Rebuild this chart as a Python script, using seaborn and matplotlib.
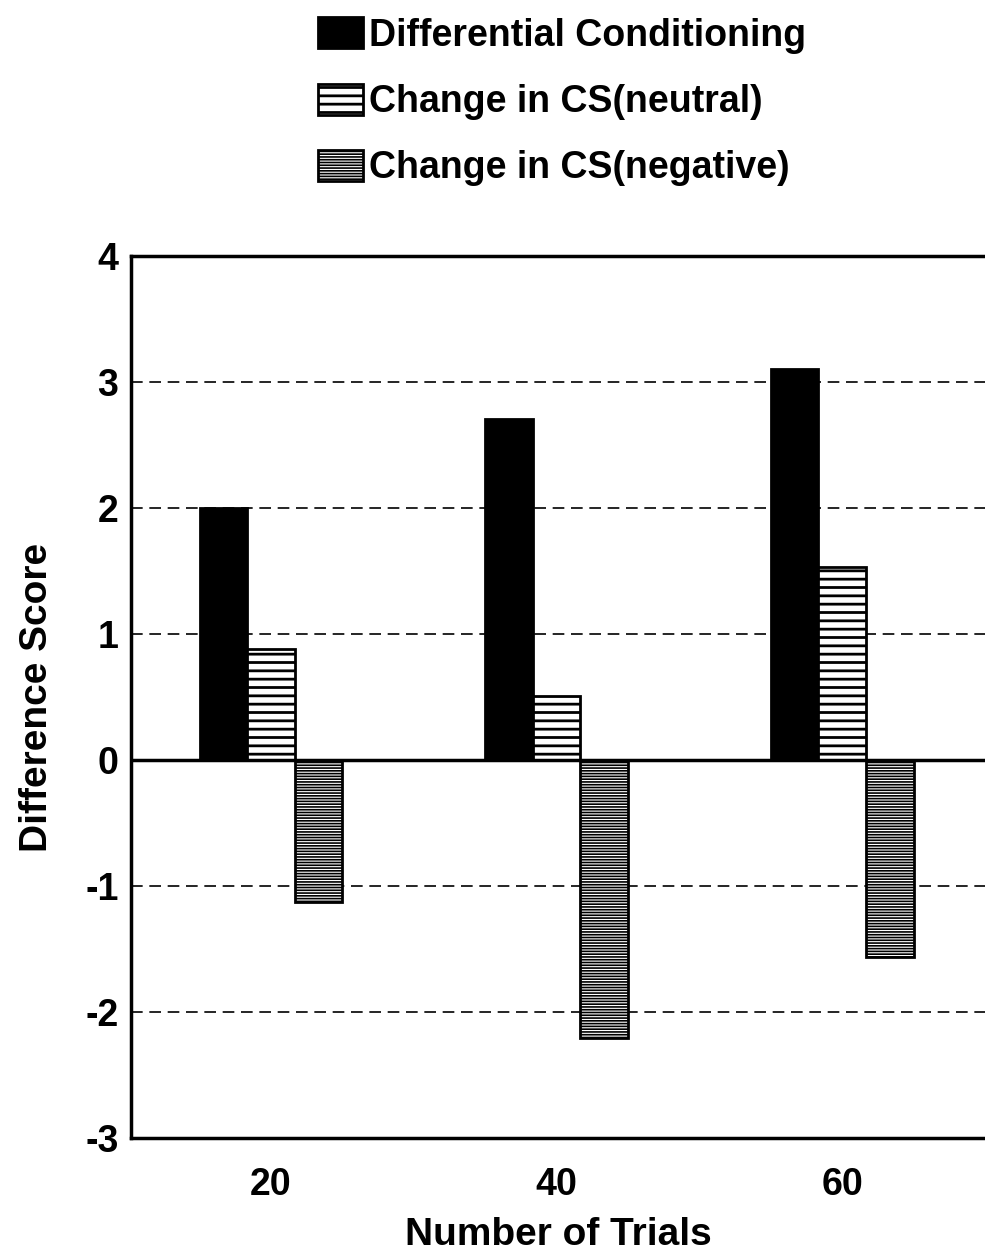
import pandas as pd
import seaborn as sns
from matplotlib import pyplot as plt

# data
trials = ["20", "40", "60"]
diff_cond = [2.00, 2.71, 3.10]
cs_neutral = [0.88, 0.51, 1.53]
cs_negative = [-1.13, -2.21, -1.56]
series_names = ["Differential Conditioning", "Change in CS(neutral)", "Change in CS(negative)"]

df = pd.DataFrame({
    "trials": trials * 3,
    "score": diff_cond + cs_neutral + cs_negative,
    "series": [series_names[0]] * 3 + [series_names[1]] * 3 + [series_names[2]] * 3,
})

sns.set_style("white")
plt.rcParams['font.family'] = ['Liberation Sans', 'DejaVu Sans']
plt.rcParams['font.weight'] = 'bold'
plt.rcParams['text.color'] = 'black'
plt.rcParams['axes.labelcolor'] = 'black'
plt.rcParams['xtick.color'] = 'black'
plt.rcParams['ytick.color'] = 'black'
plt.rcParams['hatch.linewidth'] = 2.0
plt.rcParams['hatch.color'] = 'black'

fig = plt.figure(figsize=(9.85, 12.57), dpi=100)
ax = fig.add_axes([131 / 985, 0.0947, 1 - 131 / 985, 0.7016])

sns.barplot(data=df, x="trials", y="score", hue="series", hue_order=series_names,
            order=trials, width=0.5, palette=["black", "white", "white"],
            edgecolor="black", linewidth=2.0, legend=False, ax=ax)

# hatch pattern and hatch line width per series
hatches = [None, "--", "------"]
hatch_lw = [2.0, 2.0, 1.2]


def style_patch(p, h, hl):
    if h:
        p.set_hatch(h)
        if hasattr(p, 'set_hatch_linewidth'):
            p.set_hatch_linewidth(hl)


for cont, h, hl in zip(ax.containers, hatches, hatch_lw):
    for p in cont:
        style_patch(p, h, hl)

ax.set_ylim(-3, 4)
ax.set_xlim(-0.49, 2.5)
ax.set_yticks(range(-3, 5))
ax.set_yticklabels([str(v) for v in range(-3, 5)])
ax.set_axisbelow(True)
ax.grid(axis='y', linestyle=(0, (7, 4)), color='black', linewidth=1.2)
ax.axhline(0, color='black', linewidth=2.5, zorder=1.5)

for side in ['left', 'top', 'bottom']:
    ax.spines[side].set_color('black')
    ax.spines[side].set_linewidth(2.5)
ax.spines['right'].set_visible(False)

ax.tick_params(axis='y', length=0, pad=9, labelsize=27)
ax.tick_params(axis='x', length=0, pad=21, labelsize=27)

ax.set_xlabel("Number of Trials", fontsize=28, fontweight='bold', labelpad=10)
ax.set_ylabel("Difference Score", fontsize=28, fontweight='bold', labelpad=22)

leg = fig.legend(ax.containers, series_names, loc='upper left',
                 bbox_to_anchor=(318 / 985, 1 - 17 / 1257), frameon=False,
                 fontsize=27, handlelength=1.2, handleheight=0.9,
                 handletextpad=0.15, labelspacing=0.8, borderpad=0, borderaxespad=0)
for hnd, h, hl in zip(leg.legend_handles, hatches, hatch_lw):
    style_patch(hnd, h, hl)

fig.savefig("out.png", dpi=100)
